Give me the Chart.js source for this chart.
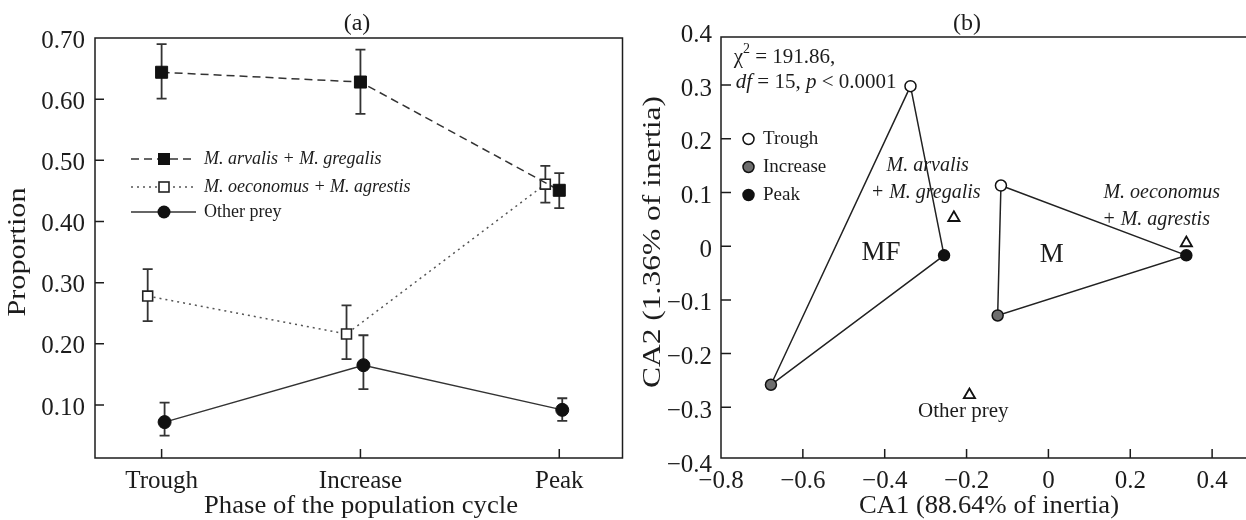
<!DOCTYPE html>
<html>
<head>
<meta charset="UTF-8">
<title>Prey proportions and CA</title>
<script src="https://cdn.jsdelivr.net/npm/chart.js@4.4.0/dist/chart.umd.min.js"></script>
<style>
  body { margin: 0; background: #fff; width: 1246px; height: 520px; overflow: hidden; position: relative; }
  canvas { position: absolute; top: 0; }
  #chartA { left: 0; }
  #chartB { left: 632px; }
</style>
</head>
<body>
<canvas id="chartA" width="632" height="520"></canvas>
<canvas id="chartB" width="614" height="520"></canvas>
<script>
// ---- panel (a) data ----
var phases = ['Trough', 'Increase', 'Peak'];
var seriesNames = ['M. arvalis + M. gregalis', 'M. oeconomus + M. agrestis', 'Other prey'];
var arvalis = [0.644, 0.628, 0.451];
var arvalisLow = [0.601, 0.576, 0.422];
var arvalisHigh = [0.690, 0.681, 0.479];
var oeconomus = [0.278, 0.216, 0.461];
var oeconomusLow = [0.237, 0.175, 0.431];
var oeconomusHigh = [0.322, 0.263, 0.491];
var other = [0.072, 0.165, 0.092];
var otherLow = [0.050, 0.126, 0.074];
var otherHigh = [0.104, 0.214, 0.111];
var propTicks = [0.10, 0.20, 0.30, 0.40, 0.50, 0.60, 0.70];

// ---- panel (b) data (order: Trough, Increase, Peak) ----
var mfX = [-0.337, -0.678, -0.255];
var mfY = [0.298, -0.258, -0.017];
var mX = [-0.116, -0.124, 0.337];
var mY = [0.113, -0.129, -0.017];
var preyX = [-0.231, 0.337, -0.193];
var preyY = [0.053, 0.006, -0.277];
var ca1Ticks = [-0.8, -0.6, -0.4, -0.2, 0, 0.2, 0.4];
var ca2Ticks = [-0.4, -0.3, -0.2, -0.1, 0, 0.1, 0.2, 0.3, 0.4];

var INK = '#1c1c1c';
var SERIF = '"Liberation Serif", "Times New Roman", serif';
function f(size, style) { return (style ? style + ' ' : '') + size + 'px ' + SERIF; }

function fmt(v, d) {
  if (Math.abs(v) < 1e-9) return '0';
  return (v < 0 ? '\u2212' : '') + Math.abs(v).toFixed(d);
}
function pts(vals, shift) {
  return vals.map(function (v, i) { return { x: i + shift, y: v }; });
}
function xy(xs, ys, order) {
  return order.map(function (i) { return { x: xs[i], y: ys[i] }; });
}
// parts: [text, italic, superscript]
function partWidth(ctx, p, size) {
  ctx.font = f(p[2] ? Math.round(size * 0.68) : size, p[1] ? 'italic' : '');
  return ctx.measureText(p[0]).width;
}
function richText(ctx, x, y, parts, size) {
  parts.forEach(function (p) {
    var w = partWidth(ctx, p, size);
    ctx.fillText(p[0], x, p[2] ? y - size * 0.38 : y);
    x += w;
  });
}
// axis title stretched to the length it has in the figure
function axisTitle(ctx, text, cx, cy, size, length, rotated) {
  ctx.save();
  ctx.font = f(size);
  var w = ctx.measureText(text).width;
  ctx.translate(cx, cy);
  if (rotated) ctx.rotate(-Math.PI / 2);
  ctx.scale(length / w, 1);
  ctx.textAlign = 'center';
  ctx.textBaseline = 'middle';
  ctx.fillText(text, 0, 0);
  ctx.restore();
}

// ---------- panel (a) ----------
var errSets = [
  { lo: arvalisLow, hi: arvalisHigh, shift: 0 },
  { lo: oeconomusLow, hi: oeconomusHigh, shift: -0.07 },
  { lo: otherLow, hi: otherHigh, shift: 0.015 }
];

var panelA = {
  id: 'panelA',
  beforeDatasetsDraw: function (chart) {
    var ctx = chart.ctx, sx = chart.scales.x, sy = chart.scales.y;
    ctx.save();
    ctx.strokeStyle = '#333';
    ctx.lineWidth = 1.8;
    errSets.forEach(function (e) {
      e.lo.forEach(function (lo, i) {
        var px = sx.getPixelForValue(i + e.shift);
        var y1 = sy.getPixelForValue(lo), y2 = sy.getPixelForValue(e.hi[i]);
        ctx.beginPath();
        ctx.moveTo(px, y1); ctx.lineTo(px, y2);
        ctx.moveTo(px - 5, y1); ctx.lineTo(px + 5, y1);
        ctx.moveTo(px - 5, y2); ctx.lineTo(px + 5, y2);
        ctx.stroke();
      });
    });
    ctx.restore();
  },
  afterDraw: function (chart) {
    var ctx = chart.ctx, a = chart.chartArea, sx = chart.scales.x, sy = chart.scales.y;
    ctx.save();
    ctx.strokeStyle = INK;
    ctx.lineWidth = 1.5;
    ctx.strokeRect(a.left, a.top, a.right - a.left, a.bottom - a.top);
    ctx.beginPath();
    sx.ticks.forEach(function (t) {
      var px = sx.getPixelForValue(t.value);
      ctx.moveTo(px, a.bottom); ctx.lineTo(px, a.bottom - 9);
    });
    sy.ticks.forEach(function (t) {
      var py = sy.getPixelForValue(t.value);
      if (py > a.top + 2 && py < a.bottom - 2) { ctx.moveTo(a.left, py); ctx.lineTo(a.left + 9, py); }
    });
    ctx.stroke();

    // titles
    ctx.fillStyle = INK;
    ctx.textAlign = 'center';
    ctx.textBaseline = 'middle';
    ctx.font = f(24);
    ctx.fillText('(a)', 357, 24);
    axisTitle(ctx, 'Phase of the population cycle', 361, 506, 25, 314, false);
    axisTitle(ctx, 'Proportion', 18, 252, 25, 129, true);

    // legend
    var rows = [159, 187, 212];
    var x0 = 131, x1 = 196, xm = 164;
    ctx.lineWidth = 1.5;
    ctx.strokeStyle = '#333';
    ctx.setLineDash([8, 5]);
    ctx.beginPath(); ctx.moveTo(x0, rows[0]); ctx.lineTo(x1, rows[0]); ctx.stroke();
    ctx.setLineDash([2, 4]);
    ctx.strokeStyle = '#555';
    ctx.beginPath(); ctx.moveTo(x0, rows[1]); ctx.lineTo(x1, rows[1]); ctx.stroke();
    ctx.setLineDash([]);
    ctx.strokeStyle = '#333';
    ctx.beginPath(); ctx.moveTo(x0, rows[2]); ctx.lineTo(x1, rows[2]); ctx.stroke();
    ctx.fillStyle = '#111';
    ctx.fillRect(xm - 6, rows[0] - 6, 12, 12);
    ctx.fillStyle = '#fff';
    ctx.fillRect(xm - 5, rows[1] - 5, 10, 10);
    ctx.strokeStyle = '#222';
    ctx.lineWidth = 1.6;
    ctx.strokeRect(xm - 5, rows[1] - 5, 10, 10);
    ctx.fillStyle = '#111';
    ctx.beginPath(); ctx.arc(xm, rows[2], 6.5, 0, Math.PI * 2); ctx.fill();
    ctx.fillStyle = INK;
    ctx.textAlign = 'left';
    ctx.font = f(18, 'italic');
    ctx.fillText(seriesNames[0], 204, rows[0]);
    ctx.fillText(seriesNames[1], 204, rows[1]);
    ctx.font = f(18);
    ctx.fillText(seriesNames[2], 204, rows[2]);
    ctx.restore();
  }
};

new Chart(document.getElementById('chartA'), {
  type: 'scatter',
  data: {
    datasets: [
      {
        label: seriesNames[0], data: pts(arvalis, 0), showLine: true,
        borderColor: '#333', borderWidth: 1.5, borderDash: [8, 5],
        pointStyle: 'rect', pointRadius: 8.5, pointBackgroundColor: '#111',
        pointBorderColor: '#111', pointBorderWidth: 1
      },
      {
        label: seriesNames[1], data: pts(oeconomus, -0.07), showLine: true,
        borderColor: '#555', borderWidth: 1.5, borderDash: [2, 4],
        pointStyle: 'rect', pointRadius: 7, pointBackgroundColor: '#fff',
        pointBorderColor: '#222', pointBorderWidth: 1.6
      },
      {
        label: seriesNames[2], data: pts(other, 0.015), showLine: true,
        borderColor: '#333', borderWidth: 1.5,
        pointStyle: 'circle', pointRadius: 6.5, pointBackgroundColor: '#111',
        pointBorderColor: '#111', pointBorderWidth: 1
      }
    ]
  },
  options: {
    responsive: false, animation: false, devicePixelRatio: 1,
    layout: { padding: { top: 38, right: 6, left: 0, bottom: 0 } },
    plugins: { legend: { display: false }, tooltip: { enabled: false } },
    scales: {
      x: {
        type: 'linear', min: -0.335, max: 2.318,
        afterFit: function (s) { s.height = 62; },
        afterBuildTicks: function (s) { s.ticks = phases.map(function (p, i) { return { value: i }; }); },
        ticks: { autoSkip: false, maxRotation: 0, padding: 8, color: INK, font: { family: SERIF, size: 25 },
                 callback: function (v) { return phases[v]; } },
        grid: { display: false, drawTicks: false }, border: { display: false }
      },
      y: {
        type: 'linear', min: 0.0133, max: 0.70,
        afterFit: function (s) { s.width = 95; },
        afterBuildTicks: function (s) { s.ticks = propTicks.map(function (v) { return { value: v }; }); },
        ticks: { autoSkip: false, padding: 10, labelOffset: 3, color: INK, font: { family: SERIF, size: 25 },
                 callback: function (v) { return fmt(v, 2); } },
        grid: { display: false, drawTicks: false }, border: { display: false }
      }
    }
  },
  plugins: [panelA]
});

// ---------- panel (b) ----------
var notesB = [
  { parts: [['MF']], x: -0.409, y: -0.012, size: 27, align: 'center' },
  { parts: [['M']], x: 0.008, y: -0.016, size: 27, align: 'center' },
  { parts: [['M. arvalis', true]], x: -0.295, y: 0.149, size: 20, align: 'center' },
  { parts: [['+ M. gregalis', true]], x: -0.300, y: 0.100, size: 20, align: 'center' },
  { parts: [['M. oeconomus', true]], x: 0.277, y: 0.100, size: 20, align: 'center' },
  { parts: [['+ M. agrestis', true]], x: 0.263, y: 0.049, size: 20, align: 'center' },
  { parts: [['Other prey']], x: -0.208, y: -0.308, size: 21, align: 'center' },
  { parts: [['\u03c7'], ['2', false, true], [' = 191.86,']], x: -0.769, y: 0.351, size: 21, align: 'left' },
  { parts: [['df', true], [' = 15, '], ['p', true], [' < 0.0001']], x: -0.764, y: 0.304, size: 21, align: 'left' }
];

var panelB = {
  id: 'panelB',
  afterDraw: function (chart) {
    var ctx = chart.ctx, a = chart.chartArea, sx = chart.scales.x, sy = chart.scales.y;
    ctx.save();
    ctx.strokeStyle = INK;
    ctx.lineWidth = 1.5;
    ctx.beginPath();
    ctx.moveTo(chart.width, a.top); ctx.lineTo(a.left, a.top);
    ctx.lineTo(a.left, a.bottom); ctx.lineTo(chart.width, a.bottom);
    sx.ticks.forEach(function (t) {
      var px = sx.getPixelForValue(t.value);
      if (px > a.left + 2 && px < a.right - 2) { ctx.moveTo(px, a.bottom); ctx.lineTo(px, a.bottom - 9); }
    });
    sy.ticks.forEach(function (t) {
      var py = sy.getPixelForValue(t.value);
      if (py > a.top + 2 && py < a.bottom - 2) { ctx.moveTo(a.left, py); ctx.lineTo(a.left + 10, py); }
    });
    ctx.stroke();

    ctx.fillStyle = INK;
    ctx.textAlign = 'center';
    ctx.textBaseline = 'middle';
    ctx.font = f(24);
    ctx.fillText('(b)', 335, 24);
    axisTitle(ctx, 'CA1 (88.64% of inertia)', 357, 506, 25, 260, false);
    axisTitle(ctx, 'CA2 (1.36% of inertia)', 21, 242, 25, 292, true);

    // annotations placed at data coordinates
    ctx.textAlign = 'left';
    notesB.forEach(function (n) {
      var px = sx.getPixelForValue(n.x), py = sy.getPixelForValue(n.y);
      var w = 0;
      n.parts.forEach(function (p) { w += partWidth(ctx, p, n.size); });
      richText(ctx, n.align === 'center' ? px - w / 2 : px, py, n.parts, n.size);
    });

    // legend
    var rows = [139, 167, 195];
    var fills = ['#fff', '#6e6e6e', '#111'];
    ctx.lineWidth = 1.5;
    ctx.strokeStyle = '#111';
    rows.forEach(function (ry, i) {
      ctx.fillStyle = fills[i];
      ctx.beginPath(); ctx.arc(116.5, ry, 5.5, 0, Math.PI * 2); ctx.fill(); ctx.stroke();
      ctx.fillStyle = INK;
      ctx.font = f(19);
      ctx.fillText(phases[i], 131, ry);
    });
    ctx.restore();
  }
};

var phaseFill = ['#fff', '#6e6e6e', '#111'];
var closeOrder = [0, 2, 1, 0];

new Chart(document.getElementById('chartB'), {
  type: 'scatter',
  data: {
    datasets: [
      {
        label: 'MF phases', data: xy(mfX, mfY, [0, 1, 2]), showLine: false,
        pointRadius: 5.5, pointBackgroundColor: phaseFill, pointBorderColor: '#111', pointBorderWidth: 1.5
      },
      {
        label: 'M phases', data: xy(mX, mY, [0, 1, 2]), showLine: false,
        pointRadius: 5.5, pointBackgroundColor: phaseFill, pointBorderColor: '#111', pointBorderWidth: 1.5
      },
      {
        label: 'Prey', data: xy(preyX, preyY, [0, 1, 2]), showLine: false,
        pointStyle: 'triangle', pointRadius: 6.5, pointBackgroundColor: '#fff',
        pointBorderColor: '#111', pointBorderWidth: 1.8
      },
      {
        label: 'MF', data: xy(mfX, mfY, closeOrder), showLine: true,
        borderColor: '#222', borderWidth: 1.5, pointRadius: 0
      },
      {
        label: 'M', data: xy(mX, mY, closeOrder), showLine: true,
        borderColor: '#222', borderWidth: 1.5, pointRadius: 0
      }
    ]
  },
  options: {
    responsive: false, animation: false, devicePixelRatio: 1,
    layout: { padding: { top: 37, right: 0, left: 0, bottom: 0 } },
    plugins: { legend: { display: false }, tooltip: { enabled: false } },
    scales: {
      x: {
        type: 'linear', min: -0.8, max: 0.4625,
        afterFit: function (s) { s.height = 62; },
        afterBuildTicks: function (s) { s.ticks = ca1Ticks.map(function (v) { return { value: v }; }); },
        ticks: { autoSkip: false, maxRotation: 0, padding: 8, color: INK, font: { family: SERIF, size: 25 },
                 callback: function (v) { return fmt(v, 1); } },
        grid: { display: false, drawTicks: false }, border: { display: false }
      },
      y: {
        type: 'linear', min: -0.3944, max: 0.3896,
        afterFit: function (s) { s.width = 89; },
        afterBuildTicks: function (s) { s.ticks = ca2Ticks.map(function (v) { return { value: v }; }); },
        ticks: { autoSkip: false, padding: 9, labelOffset: 4, color: INK, font: { family: SERIF, size: 25 },
                 callback: function (v) { return fmt(v, 1); } },
        grid: { display: false, drawTicks: false }, border: { display: false }
      }
    }
  },
  plugins: [panelB]
});
</script>
</body>
</html>
